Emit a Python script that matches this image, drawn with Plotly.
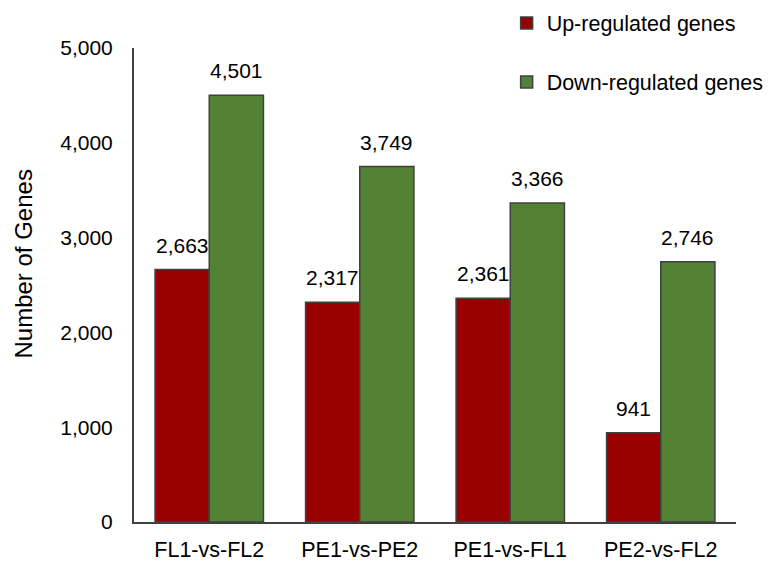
import plotly.graph_objects as go

categories = ["FL1-vs-FL2", "PE1-vs-PE2", "PE1-vs-FL1", "PE2-vs-FL2"]
up_values = [2663, 2317, 2361, 941]
down_values = [4501, 3749, 3366, 2746]
series_names = ["Up-regulated genes", "Down-regulated genes"]
y_ticks = [0, 1000, 2000, 3000, 4000, 5000]
y_title = "Number of Genes"

RED = "#990000"
GREEN = "#548235"
EDGE = "#404040"
FONT = "Liberation Sans, Arial, sans-serif"

fig = go.Figure()
for name, vals, col in [(series_names[0], up_values, RED), (series_names[1], down_values, GREEN)]:
    fig.add_trace(go.Bar(
        x=categories, y=vals, name=name, legendgroup=name,
        marker=dict(color=col, line=dict(color=EDGE, width=1.5)),
    ))

# data labels above bars
for i, c in enumerate(categories):
    for vals, shift in [(up_values, -27), (down_values, 27)]:
        fig.add_annotation(x=c, y=vals[i], text=f"{vals[i]:,}", showarrow=False,
                           xshift=shift, yshift=11, yanchor="bottom",
                           font=dict(size=21, color="black", family=FONT))

# y-axis title (placed slightly above the axis centre, as in the reference)
fig.add_annotation(xref="paper", yref="paper", x=-0.183, y=0.545, text=y_title,
                   textangle=-90, showarrow=False, xanchor="center", yanchor="middle",
                   font=dict(size=24, color="black", family=FONT))

# page body has an 8px default margin, so the figure is drawn 8px in from the corner
fig.update_layout(
    width=766, height=554,
    margin=dict(l=126, r=38, t=40, b=40, autoexpand=False),
    paper_bgcolor="white", plot_bgcolor="white",
    font=dict(family=FONT, size=21, color="black"),
    barmode="group", bargap=0.28, bargroupgap=0,
    showlegend=True,
    legend=dict(x=0.619, y=1.096, xanchor="left", yanchor="top",
                traceorder="grouped", tracegroupgap=28,
                font=dict(size=21.5, family=FONT), bgcolor="rgba(0,0,0,0)"),
    xaxis=dict(showline=True, linecolor=EDGE, linewidth=2, ticks="", automargin=False,
               showgrid=False, tickfont=dict(size=21.5), ticklabelstandoff=7),
    yaxis=dict(range=[0, 5000], tickvals=y_ticks, tickformat=",", showline=True,
               linecolor=EDGE, linewidth=2, ticks="", showgrid=False, zeroline=False,
               automargin=False, tickfont=dict(size=21), ticklabelstandoff=15),
)

fig.write_html("out.html")
